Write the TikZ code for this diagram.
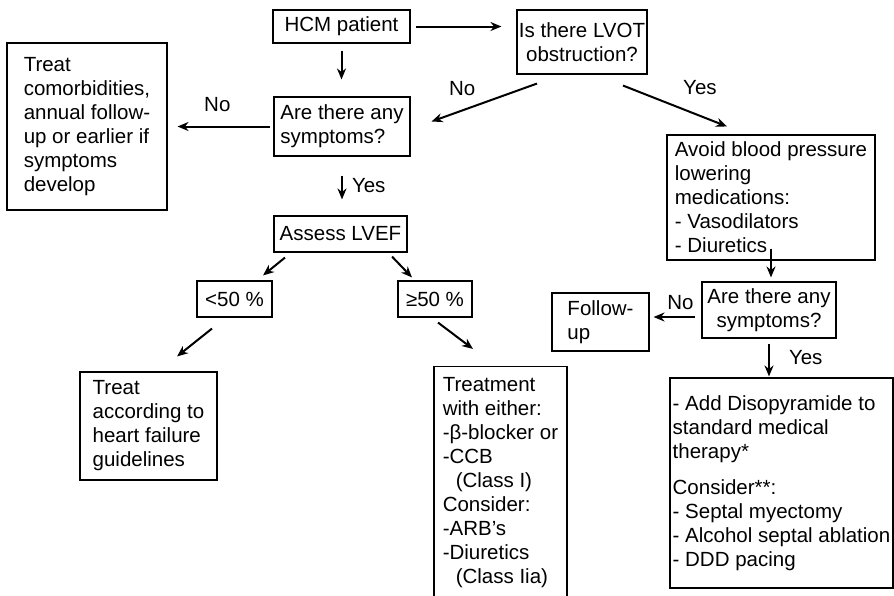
\documentclass[tikz,border=0pt]{standalone}
\usepackage{fontspec}
\setmainfont{Liberation Sans}
\usetikzlibrary{arrows.meta,calc,positioning}

\tikzset{
  box/.style={draw,line width=1.1pt,align=left,inner sep=0pt,font=\fontsize{20.5}{24}\selectfont},
  cbox/.style={box,align=center},
  arr/.style={line width=2pt,-{Stealth[length=11pt,width=9pt]}},
  lbl/.style={inner sep=1pt,font=\fontsize{20.5}{24}\selectfont}
}

\begin{document}
\begin{tikzpicture}[x=1pt,y=-1pt]
\useasboundingbox (0,0) rectangle (894,595);

\node[cbox,minimum width=137pt,minimum height=33pt] (hcm) at (341.5,26.5) {HCM patient};
\node[cbox,minimum width=130pt,minimum height=64pt] (lvot) at (582,42) {Is there LVOT\\obstruction?};
\node[box,minimum width=160pt,minimum height=167pt] (comorb) at (87,126.5) {Treat\\comorbidities,\\annual follow-\\up or earlier if\\symptoms\\develop};
\node[box,minimum width=136pt,minimum height=59pt] (sym1) at (342,126.5) {Are there any\\symptoms?};
\node[cbox,minimum width=133pt,minimum height=36pt] (assess) at (340.5,234) {Assess LVEF};
\node[cbox,minimum width=75pt,minimum height=36pt] (low) at (234.5,299) {<50 \%};
\node[cbox,minimum width=74pt,minimum height=36pt] (high) at (435,299) {≥50 \%};
\node[box,minimum width=137pt,minimum height=108pt] (hf) at (148.5,426) {Treat\\according to\\heart failure\\guidelines};
\node[box,minimum width=133pt,minimum height=233pt] (treat) at (500.5,483) {Treatment\\with either:\\-β-blocker or\\-CCB\\\hspace*{13pt}(Class I)\\Consider:\\-ARB's\\-Diuretics\\\hspace*{13pt}(Class Iia)};
\node[box,minimum width=208pt,minimum height=125pt] (avoid) at (771,197.5) {Avoid blood pressure\\lowering\\medications:\\- Vasodilators\\- Diuretics};
\node[cbox,minimum width=134pt,minimum height=56pt] (sym2) at (769,310) {Are there any\\symptoms?};
\node[box,minimum width=97pt,minimum height=58pt] (follow) at (600.5,322) {Follow-\\up};
\node[box,minimum width=223pt,minimum height=210pt] (dis) at (781.5,483) {- Add Disopyramide to\\standard medical\\therapy*\\[12pt]Consider**:\\- Septal myectomy\\- Alcohol septal ablation\\- DDD pacing};

\draw[arr,shorten <=5pt,shorten >=15pt] (hcm.east) -- (hcm.east -| lvot.west);
\draw[arr,shorten <=7pt,shorten >=17pt] (hcm.south) -- (hcm.south |- sym1.north);
\draw[arr] ($(lvot.south)+(-45,9)$) -- node[lbl,pos=.71,yshift=22pt] (nolvot) {No} ($(sym1.east)+(21,-5)$);
\draw[arr,shorten <=3pt,shorten >=10pt] (sym1.west) -- node[lbl,pos=.53,yshift=22pt] (nosym1) {No} (comorb.east);
\draw[arr] ($(lvot.south)+(41,11)$) -- node[lbl,pos=.74,yshift=28pt] (yeslvot) {Yes} ($(avoid.north)+(-44,-8)$);
\draw[arr,shorten <=19pt,shorten >=16pt] (sym1.south) -- node[lbl,anchor=west,xshift=8pt] (yessym1) {Yes} (sym1.south |- assess.north);
\draw[arr] ($(assess.south)+(-55.5,5)$) -- ($(low.north)+(28.5,-5)$);
\draw[arr] ($(assess.south)+(51.5,4)$) -- ($(high.north)+(-23,-3)$);
\draw[arr] ($(low.south)+(-22.5,11)$) -- ($(hf.north)+(28.5,-15)$);
\draw[arr] ($(high.south)+(3,5)$) -- ($(treat.north)+(-27.5,-17)$);
\draw[arr,shorten <=-12pt,shorten >=4pt] (avoid.south) -- (avoid.south |- sym2.north);
\draw[arr] ($(sym2.west)+(-6,7)$) -- node[lbl,pos=.36,yshift=14pt] (nosym2) {No} ($(follow.east)+(4,-5)$);
\draw[arr,shorten <=5pt,shorten >=1pt] (sym2.south) -- node[lbl,anchor=west,xshift=18pt] (yessym2) {Yes} (sym2.south |- dis.north);
\end{tikzpicture}
\end{document}
